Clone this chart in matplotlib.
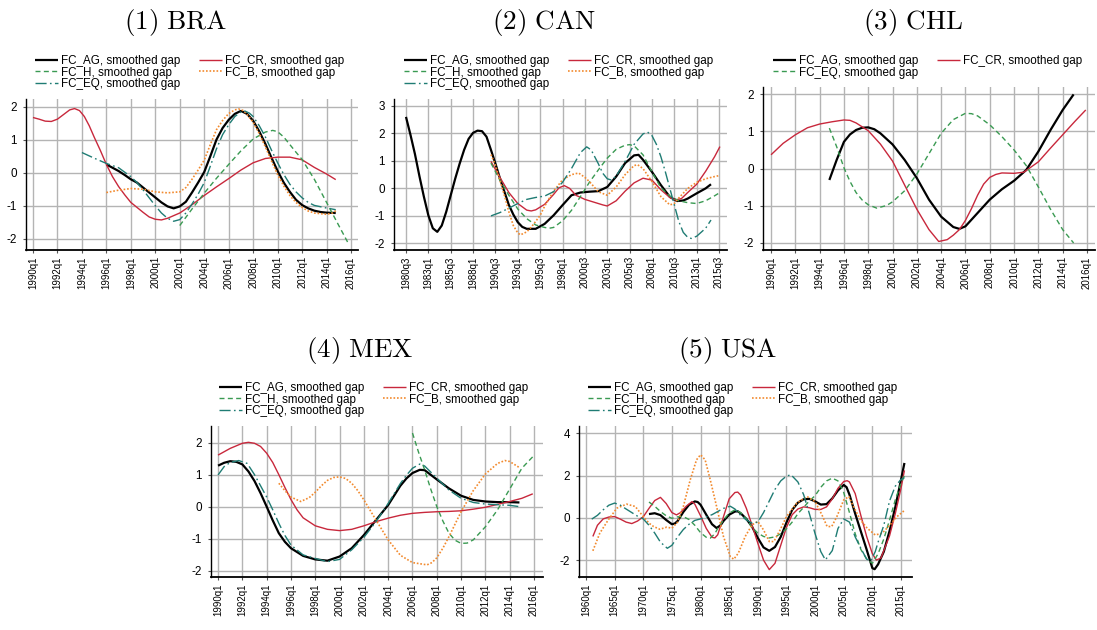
import matplotlib
matplotlib.use("Agg")
import matplotlib.pyplot as plt

plt.rcParams["font.family"] = ["Liberation Sans", "DejaVu Sans"]
plt.rcParams["axes.unicode_minus"] = False

# ---------------- data: smoothed credit gaps by country ----------------
# (1) BRA
BRA_AG_T = [1996.0, 1996.5, 1997.0, 1997.5, 1998.0, 1998.5, 1999.0, 1999.5, 2000.0, 2000.5,
            2001.0, 2001.5, 2002.0, 2002.5, 2003.0, 2003.5, 2004.0, 2004.5, 2005.0, 2005.5,
            2006.0, 2006.5, 2007.0, 2007.5, 2008.0, 2008.5, 2009.0, 2009.5, 2010.0, 2010.5,
            2011.0, 2011.5, 2012.0, 2012.5, 2013.0, 2013.5, 2014.0, 2014.75]
BRA_AG = [0.25, 0.15, 0.05, -0.07, -0.2, -0.3, -0.45, -0.6, -0.75, -0.9,
          -1.02, -1.08, -1.02, -0.88, -0.6, -0.3, 0.02, 0.5, 1.0, 1.35,
          1.6, 1.78, 1.87, 1.78, 1.57, 1.25, 0.87, 0.45, 0.05, -0.3,
          -0.58, -0.82, -0.98, -1.08, -1.15, -1.19, -1.21, -1.22]
BRA_CR_T = [1990.0, 1990.5, 1991.0, 1991.5, 1992.0, 1992.5, 1993.0, 1993.4, 1993.8, 1994.2,
            1994.6, 1995.0, 1995.5, 1996.0, 1996.5, 1997.0, 1997.5, 1998.0, 1998.5, 1999.0,
            1999.5, 2000.0, 2000.5, 2001.0, 2002.0, 2003.0, 2004.0, 2005.0, 2006.0, 2007.0,
            2008.0, 2009.0, 2010.0, 2011.0, 2012.0, 2013.0, 2014.0, 2014.75]
BRA_CR = [1.67, 1.62, 1.56, 1.55, 1.62, 1.76, 1.9, 1.94, 1.88, 1.7,
          1.42, 1.08, 0.68, 0.25, -0.12, -0.42, -0.67, -0.9, -1.05, -1.2,
          -1.34, -1.41, -1.43, -1.38, -1.22, -0.97, -0.69, -0.43, -0.18, 0.08,
          0.3, 0.43, 0.47, 0.47, 0.39, 0.16, -0.04, -0.21]
BRA_H_T = [2002.0, 2002.5, 2003.0, 2004.0, 2005.0, 2006.0, 2007.0, 2008.0, 2009.0, 2009.6,
           2010.0, 2010.5, 2011.0, 2011.5, 2012.0, 2013.0, 2014.0, 2015.0, 2015.75]
BRA_H = [-1.6, -1.35, -1.1, -0.62, -0.17, 0.25, 0.66, 1.02, 1.23, 1.28,
         1.24, 1.08, 0.85, 0.62, 0.4, -0.2, -0.9, -1.6, -2.12]
BRA_B_T = [1996.0, 1997.0, 1998.0, 1999.0, 2000.0, 2001.0, 2002.0, 2002.5, 2003.0, 2003.5,
           2004.0, 2004.5, 2005.0, 2005.5, 2006.0, 2006.5, 2006.8, 2007.2, 2007.6, 2008.0,
           2008.5, 2009.0, 2009.5, 2010.0, 2010.5, 2011.0, 2011.5, 2012.0, 2012.5, 2013.0,
           2014.0, 2014.5, 2014.75]
BRA_B = [-0.6, -0.53, -0.48, -0.5, -0.58, -0.61, -0.58, -0.45, -0.2, 0.08,
         0.38, 0.85, 1.3, 1.58, 1.79, 1.9, 1.93, 1.88, 1.72, 1.53,
         1.18, 0.78, 0.35, -0.06, -0.4, -0.69, -0.9, -1.05, -1.16, -1.22,
         -1.26, -1.22, -1.15]
BRA_EQ_T = [1994.0, 1995.0, 1996.0, 1997.0, 1998.0, 1998.5, 1999.0, 1999.5, 2000.0, 2000.5,
            2001.0, 2001.5, 2002.0, 2002.5, 2003.0, 2003.5, 2004.0, 2004.5, 2005.0, 2005.5,
            2006.0, 2006.5, 2007.0, 2007.3, 2007.7, 2008.0, 2008.5, 2009.0, 2009.5, 2010.0,
            2010.5, 2011.0, 2011.5, 2012.0, 2012.5, 2013.0, 2014.0, 2014.75]
BRA_EQ = [0.61, 0.44, 0.28, 0.15, -0.12, -0.3, -0.52, -0.76, -1.0, -1.22,
          -1.38, -1.47, -1.42, -1.22, -0.95, -0.65, -0.3, 0.2, 0.72, 1.15,
          1.45, 1.7, 1.84, 1.87, 1.8, 1.7, 1.42, 1.08, 0.68, 0.3,
          -0.05, -0.35, -0.58, -0.76, -0.9, -0.99, -1.07, -1.12]

# (2) CAN
CAN_AG_T = [1980.5, 1981.0, 1981.5, 1982.0, 1982.5, 1983.0, 1983.5, 1984.0, 1984.5, 1985.0,
            1985.5, 1986.0, 1986.5, 1987.0, 1987.5, 1988.0, 1988.5, 1989.0, 1989.5, 1990.0,
            1990.5, 1991.0, 1991.5, 1992.0, 1992.5, 1993.0, 1993.5, 1994.0, 1995.0, 1996.0,
            1997.0, 1998.0, 1999.0, 2000.0, 2001.0, 2002.0, 2003.0, 2004.0, 2005.0, 2006.0,
            2006.5, 2007.0, 2008.0, 2009.0, 2010.0, 2010.8, 2011.5, 2012.0, 2013.0, 2014.0,
            2014.6]
CAN_AG = [2.6, 1.95, 1.25, 0.45, -0.3, -0.98, -1.45, -1.58, -1.35, -0.85,
          -0.25, 0.35, 0.9, 1.4, 1.8, 2.02, 2.1, 2.08, 1.88, 1.4,
          0.9, 0.37, -0.12, -0.6, -0.95, -1.23, -1.4, -1.47, -1.47, -1.29,
          -0.98, -0.61, -0.25, -0.15, -0.12, -0.1, 0.05, 0.43, 0.92, 1.2,
          1.22, 1.04, 0.6, 0.12, -0.31, -0.46, -0.44, -0.37, -0.18, 0.0,
          0.15]
CAN_CR_T = [1990.0, 1991.0, 1992.0, 1993.0, 1994.0, 1994.5, 1995.0, 1996.0, 1997.0, 1997.6,
            1998.2, 1998.8, 1999.5, 2000.5, 2001.5, 2002.5, 2003.0, 2004.0, 2005.0, 2006.0,
            2007.0, 2008.0, 2009.0, 2010.0, 2010.6, 2011.3, 2012.0, 2013.0, 2014.0, 2015.0,
            2015.6]
CAN_CR = [0.98, 0.4, -0.15, -0.55, -0.79, -0.82, -0.78, -0.58, -0.22, 0.02,
          0.1, 0.0, -0.25, -0.4, -0.5, -0.6, -0.64, -0.45, -0.1, 0.2,
          0.37, 0.3, -0.05, -0.33, -0.42, -0.37, -0.15, 0.15, 0.62, 1.15,
          1.52]
CAN_H_T = [1990.0, 1991.0, 1992.0, 1993.0, 1994.0, 1995.0, 1996.0, 1996.5, 1997.0, 1998.0,
           1999.0, 2000.0, 2001.0, 2002.0, 2003.0, 2004.0, 2005.0, 2005.5, 2006.0, 2007.0,
           2008.0, 2009.0, 2010.0, 2011.0, 2012.0, 2013.0, 2014.0, 2015.0, 2015.6]
CAN_H = [0.92, 0.3, -0.25, -0.75, -1.1, -1.33, -1.42, -1.45, -1.42, -1.18,
         -0.8, -0.3, 0.22, 0.67, 1.1, 1.42, 1.57, 1.59, 1.55, 1.22,
         0.6, 0.02, -0.28, -0.45, -0.52, -0.55, -0.45, -0.27, -0.15]
CAN_B_T = [1990.0, 1990.5, 1991.0, 1991.5, 1992.0, 1992.5, 1993.0, 1993.3, 1994.0, 1994.5,
           1995.0, 1995.5, 1996.0, 1997.0, 1998.0, 1999.0, 1999.8, 2000.5, 2001.0, 2002.0,
           2003.0, 2004.0, 2005.0, 2006.0, 2006.4, 2007.0, 2008.0, 2009.0, 2010.0, 2010.5,
           2011.0, 2012.0, 2013.0, 2014.0, 2015.0, 2015.6]
CAN_B = [1.23, 0.85, 0.3, -0.25, -0.85, -1.35, -1.62, -1.69, -1.58, -1.41,
         -1.2, -0.98, -0.65, -0.1, 0.31, 0.5, 0.56, 0.4, 0.25, -0.12,
         -0.25, 0.05, 0.5, 0.83, 0.86, 0.72, 0.25, -0.3, -0.6, -0.55,
         -0.35, 0.0, 0.22, 0.35, 0.43, 0.47]
CAN_EQ_T = [1990.0, 1991.0, 1992.0, 1993.0, 1994.0, 1995.0, 1996.0, 1997.0, 1998.0, 1999.0,
            2000.0, 2000.7, 2001.2, 2002.0, 2002.5, 2003.0, 2003.5, 2004.0, 2005.0, 2006.0,
            2007.0, 2007.5, 2008.0, 2008.5, 2009.0, 2009.5, 2010.0, 2010.5, 2011.0, 2011.5,
            2012.0, 2012.4, 2013.0, 2014.0, 2014.6]
CAN_EQ = [-1.0, -0.88, -0.72, -0.55, -0.4, -0.33, -0.28, -0.12, 0.22, 0.72,
          1.3, 1.51, 1.4, 0.9, 0.55, 0.35, 0.3, 0.45, 0.98, 1.6,
          1.98, 2.05, 1.92, 1.6, 1.15, 0.6, 0.0, -0.6, -1.2, -1.6,
          -1.78, -1.82, -1.74, -1.45, -1.15]

# (3) CHL
CHL_AG_T = [1994.8, 1995.4, 1996.0, 1996.5, 1997.0, 1997.5, 1998.0, 1998.5, 1999.0, 2000.0,
            2001.0, 2002.0, 2003.0, 2004.0, 2005.0, 2005.5, 2006.0, 2007.0, 2008.0, 2009.0,
            2010.0, 2011.0, 2012.0, 2013.0, 2014.0, 2014.9]
CHL_AG = [-0.31, 0.23, 0.72, 0.92, 1.04, 1.1, 1.11, 1.06, 0.95, 0.65,
          0.23, -0.26, -0.84, -1.3, -1.58, -1.63, -1.56, -1.2, -0.84, -0.56,
          -0.33, -0.04, 0.46, 1.04, 1.58, 2.0]
CHL_CR_T = [1990.0, 1991.0, 1992.0, 1993.0, 1994.0, 1995.0, 1996.0, 1996.5, 1997.0, 1998.0,
            1999.0, 2000.0, 2001.0, 2002.0, 2003.0, 2003.8, 2004.5, 2005.0, 2005.5, 2006.0,
            2006.5, 2007.0, 2007.5, 2008.0, 2008.5, 2009.0, 2010.0, 2010.8, 2012.0, 2013.0,
            2014.0, 2015.0, 2015.9]
CHL_CR = [0.37, 0.68, 0.91, 1.1, 1.2, 1.26, 1.31, 1.3, 1.23, 1.02,
          0.66, 0.2, -0.45, -1.1, -1.65, -1.97, -1.92, -1.8, -1.65, -1.4,
          -1.08, -0.72, -0.42, -0.24, -0.16, -0.12, -0.13, -0.1, 0.18, 0.55,
          0.91, 1.27, 1.58]
CHL_EQ_T = [1994.8, 1995.4, 1996.0, 1996.5, 1997.0, 1997.5, 1998.0, 1998.7, 1999.5, 2000.0,
            2001.0, 2002.0, 2003.0, 2004.0, 2005.0, 2006.0, 2006.5, 2007.0, 2008.0, 2009.0,
            2010.0, 2011.0, 2012.0, 2013.0, 2014.0, 2014.9]
CHL_EQ = [1.09, 0.59, 0.02, -0.35, -0.65, -0.85, -0.98, -1.07, -1.0, -0.9,
          -0.6, -0.15, 0.4, 0.95, 1.32, 1.49, 1.48, 1.42, 1.18, 0.86,
          0.5, 0.08, -0.5, -1.1, -1.65, -2.01]

# (4) MEX
MEX_AG_T = [1990.0, 1990.5, 1991.0, 1991.5, 1992.0, 1992.5, 1993.0, 1993.5, 1994.0, 1994.5,
            1995.0, 1995.5, 1996.0, 1997.0, 1998.0, 1999.0, 2000.0, 2001.0, 2002.0, 2003.0,
            2004.0, 2005.0, 2005.5, 2006.0, 2006.6, 2007.0, 2008.0, 2009.0, 2010.0, 2011.0,
            2012.0, 2013.0, 2014.0, 2014.8]
MEX_AG = [1.28, 1.37, 1.42, 1.4, 1.32, 1.1, 0.8, 0.42, 0.0, -0.43,
          -0.83, -1.1, -1.3, -1.54, -1.65, -1.69, -1.56, -1.3, -0.89, -0.42,
          0.05, 0.65, 0.88, 1.05, 1.15, 1.14, 0.85, 0.57, 0.34, 0.21,
          0.16, 0.14, 0.14, 0.13]
MEX_CR_T = [1990.0, 1991.0, 1992.0, 1992.5, 1993.0, 1993.5, 1994.0, 1994.5, 1995.0, 1995.5,
            1996.0, 1996.5, 1997.0, 1998.0, 1999.0, 2000.0, 2001.0, 2002.0, 2003.0, 2004.0,
            2005.0, 2006.0, 2007.0, 2008.0, 2009.0, 2010.0, 2011.0, 2012.0, 2013.0, 2014.0,
            2015.0, 2015.9]
MEX_CR = [1.61, 1.82, 1.98, 2.01, 1.98, 1.88, 1.67, 1.38, 1.0, 0.6,
          0.22, -0.1, -0.35, -0.6, -0.71, -0.75, -0.71, -0.6, -0.47, -0.36,
          -0.27, -0.21, -0.18, -0.16, -0.15, -0.13, -0.08, -0.02, 0.07, 0.16,
          0.26, 0.4]
MEX_H_T = [2006.0, 2006.5, 2007.0, 2007.5, 2008.0, 2008.5, 2009.0, 2009.5, 2010.0, 2010.5,
           2011.0, 2012.0, 2013.0, 2014.0, 2015.0, 2015.9]
MEX_H = [2.3, 1.7, 1.15, 0.55, 0.0, -0.45, -0.83, -1.05, -1.15, -1.14,
         -1.04, -0.63, -0.1, 0.55, 1.2, 1.56]
MEX_B_T = [1995.0, 1995.5, 1996.0, 1996.8, 1997.5, 1998.0, 1998.5, 1999.0, 1999.5, 2000.0,
           2000.5, 2001.0, 2001.5, 2002.0, 2003.0, 2004.0, 2005.0, 2006.0, 2007.2, 2007.6,
           2008.0, 2008.5, 2009.0, 2009.5, 2010.0, 2011.0, 2012.0, 2013.0, 2013.6, 2014.0,
           2014.8]
MEX_B = [0.73, 0.5, 0.3, 0.16, 0.28, 0.45, 0.65, 0.82, 0.91, 0.93,
         0.88, 0.73, 0.5, 0.21, -0.42, -1.04, -1.52, -1.75, -1.82, -1.75,
         -1.6, -1.3, -0.94, -0.55, -0.16, 0.5, 1.02, 1.35, 1.44, 1.41,
         1.22]
MEX_EQ_T = [1990.0, 1990.5, 1991.0, 1991.7, 1992.4, 1993.0, 1993.5, 1994.0, 1994.5, 1995.0,
            1995.5, 1996.0, 1997.0, 1998.0, 1999.0, 2000.0, 2001.0, 2002.0, 2003.0, 2004.0,
            2005.0, 2005.5, 2006.0, 2006.6, 2007.0, 2008.0, 2009.0, 2010.0, 2011.0, 2012.0,
            2013.0, 2014.0, 2014.8]
MEX_EQ = [0.99, 1.25, 1.38, 1.44, 1.35, 1.0, 0.65, 0.3, -0.1, -0.52,
          -0.9, -1.2, -1.51, -1.62, -1.72, -1.65, -1.35, -0.96, -0.47, 0.1,
          0.72, 0.98, 1.2, 1.33, 1.27, 0.89, 0.52, 0.26, 0.13, 0.08,
          0.06, 0.04, 0.0]

# (5) USA
USA_AG_T = [1971.0, 1972.0, 1973.0, 1974.0, 1975.0, 1975.5, 1976.0, 1977.0, 1978.0, 1979.0,
            1979.5, 1980.0, 1981.0, 1982.0, 1982.8, 1983.5, 1984.0, 1985.0, 1986.0, 1986.5,
            1987.0, 1988.0, 1989.0, 1990.0, 1991.0, 1992.0, 1993.0, 1994.0, 1995.0, 1996.0,
            1997.0, 1998.0, 1999.0, 2000.0, 2001.0, 2002.0, 2003.0, 2004.0, 2005.0, 2005.5,
            2006.0, 2007.0, 2008.0, 2009.0, 2010.0, 2010.4, 2011.0, 2012.0, 2013.0, 2014.0,
            2015.0, 2015.6]
USA_AG = [0.18, 0.22, 0.13, -0.1, -0.3, -0.27, -0.15, 0.28, 0.62, 0.78,
          0.75, 0.62, 0.15, -0.3, -0.48, -0.35, -0.15, 0.15, 0.3, 0.31,
          0.22, -0.05, -0.42, -0.95, -1.4, -1.56, -1.38, -0.9, -0.22, 0.38,
          0.72, 0.88, 0.9, 0.78, 0.63, 0.65, 0.92, 1.3, 1.56, 1.45,
          1.1, 0.2, -0.65, -1.5, -2.38, -2.43, -2.2, -1.6, -0.62, 0.5,
          1.8, 2.6]
USA_CR_T = [1961.2, 1962.0, 1963.0, 1964.0, 1965.0, 1966.0, 1967.0, 1968.0, 1969.0, 1970.0,
            1971.0, 1972.0, 1973.0, 1974.0, 1975.0, 1975.8, 1976.5, 1977.5, 1978.5, 1979.0,
            1980.0, 1981.0, 1982.0, 1982.5, 1983.0, 1984.0, 1985.0, 1986.0, 1986.5, 1987.0,
            1988.0, 1989.0, 1990.0, 1991.0, 1992.0, 1993.0, 1994.0, 1995.0, 1996.0, 1997.0,
            1998.0, 1999.0, 2000.0, 2001.0, 2002.0, 2003.0, 2004.0, 2005.0, 2005.6, 2006.0,
            2007.0, 2008.0, 2009.0, 2010.0, 2010.7, 2011.5, 2012.0, 2013.0, 2014.0, 2015.0,
            2015.6]
USA_CR = [-0.88, -0.35, -0.05, 0.04, 0.06, -0.06, -0.2, -0.27, -0.15, 0.05,
          0.45, 0.82, 0.97, 0.68, 0.25, 0.14, 0.25, 0.55, 0.77, 0.65,
          0.1, -0.5, -0.92, -0.95, -0.8, 0.05, 0.9, 1.2, 1.22, 1.08,
          0.45, -0.35, -1.2, -2.0, -2.45, -2.15, -1.3, -0.45, 0.15, 0.42,
          0.52, 0.48, 0.4, 0.4, 0.52, 0.9, 1.4, 1.72, 1.76, 1.7,
          1.15, 0.1, -0.88, -1.7, -2.0, -1.9, -1.55, -0.85, 0.2, 1.4,
          2.25]
USA_H_T = [1971.0, 1972.0, 1973.0, 1974.0, 1975.0, 1976.0, 1977.0, 1978.0, 1979.0, 1980.0,
           1981.0, 1981.7, 1982.5, 1983.0, 1984.0, 1985.0, 1986.0, 1987.0, 1988.0, 1989.0,
           1990.0, 1991.0, 1992.0, 1993.0, 1994.0, 1995.0, 1996.0, 1997.0, 1998.0, 1999.0,
           2000.0, 2001.0, 2002.0, 2003.0, 2004.0, 2005.0, 2006.0, 2007.0, 2008.0, 2009.0,
           2010.0, 2011.0, 2012.0, 2013.0, 2014.0, 2015.0, 2015.6]
USA_H = [0.75, 0.55, 0.3, 0.1, -0.02, 0.05, 0.06, -0.08, -0.35, -0.7,
         -0.92, -0.96, -0.75, -0.5, -0.1, 0.22, 0.38, 0.25, -0.05, -0.45,
         -0.72, -0.88, -0.95, -0.9, -0.75, -0.52, -0.2, 0.2, 0.5, 0.8,
         1.05, 1.45, 1.75, 1.88, 1.75, 1.2, 0.25, -0.75, -1.5, -1.95,
         -2.15, -1.7, -1.0, -0.1, 0.85, 1.65, 2.0]
USA_B_T = [1961.2, 1962.4, 1963.9, 1965.4, 1967.1, 1968.6, 1970.0, 1971.0, 1971.8, 1972.9,
           1974.1, 1975.0, 1976.0, 1977.0, 1978.2, 1979.3, 1980.0, 1980.8, 1981.7, 1982.8,
           1984.0, 1985.2, 1985.8, 1986.6, 1987.8, 1989.0, 1990.0, 1991.0, 1992.0, 1992.8,
           1993.9, 1995.0, 1996.8, 1998.6, 2000.0, 2001.2, 2002.1, 2002.9, 2003.8, 2005.0,
           2005.9, 2006.7, 2007.9, 2009.1, 2010.5, 2011.7, 2013.1, 2014.3, 2015.6]
USA_B = [-1.56, -0.73, -0.09, 0.46, 0.65, 0.54, 0.06, -0.25, -0.41, -0.54,
         -0.44, -0.49, -0.2, 0.54, 1.8, 2.75, 2.99, 2.75, 1.8, 0.54,
         -0.88, -1.83, -1.96, -1.67, -0.88, -0.33, -0.17, -0.57, -1.12, -1.12,
         -0.57, 0.06, 0.7, 1.01, 0.77, 0.14, -0.41, -0.41, 0.06, 0.85,
         1.01, 0.54, -0.09, -0.49, -0.81, -0.73, -0.33, 0.06, 0.35]
USA_EQ_T = [1961.0, 1962.0, 1963.0, 1964.0, 1965.0, 1966.0, 1967.0, 1968.0, 1969.0, 1970.0,
            1971.0, 1972.0, 1973.0, 1974.2, 1975.0, 1976.0, 1977.0, 1978.0, 1979.0, 1980.0,
            1981.0, 1982.0, 1983.0, 1984.0, 1985.2, 1986.0, 1987.0, 1988.0, 1989.0, 1990.0,
            1991.0, 1992.0, 1993.0, 1994.0, 1995.0, 1995.8, 1997.0, 1998.0, 1999.0, 2000.0,
            2001.0, 2001.8, 2003.0, 2004.0, 2005.0, 2006.0, 2007.0, 2008.0, 2009.0, 2009.7,
            2010.5, 2011.0, 2012.0, 2013.0, 2014.0, 2015.0, 2015.6]
USA_EQ = [-0.06, 0.12, 0.38, 0.6, 0.7, 0.6, 0.42, 0.25, 0.08, -0.05,
          -0.35, -0.72, -1.15, -1.44, -1.3, -0.9, -0.55, -0.3, -0.12, -0.05,
          0.05, 0.15, 0.3, 0.45, 0.55, 0.42, 0.12, -0.1, -0.25, -0.2,
          0.25, 0.8, 1.35, 1.75, 1.98, 2.04, 1.7, 1.1, 0.2, -0.75,
          -1.6, -1.99, -1.55, -0.5, -0.05, -0.2, -0.9, -1.45, -1.95, -2.05,
          -1.6, -1.15, -0.35, 0.8, 1.5, 1.82, 1.9]

# tick labels (quarters)
TICKS_9016 = ["1990q1", "1992q1", "1994q1", "1996q1", "1998q1", "2000q1", "2002q1",
              "2004q1", "2006q1", "2008q1", "2010q1", "2012q1", "2014q1", "2016q1"]
TICKS_CAN = ["1980q3", "1983q1", "1985q3", "1988q1", "1990q3", "1993q1", "1995q3", "1998q1",
             "2000q3", "2003q1", "2005q3", "2008q1", "2010q3", "2013q1", "2015q3"]
TICKS_USA = ["1960q1", "1965q1", "1970q1", "1975q1", "1980q1", "1985q1", "1990q1",
             "1995q1", "2000q1", "2005q1", "2010q1", "2015q1"]

LABEL = {"AG": "FC_AG, smoothed gap", "CR": "FC_CR, smoothed gap",
         "H": "FC_H, smoothed gap", "B": "FC_B, smoothed gap",
         "EQ": "FC_EQ, smoothed gap"}

# ---------------- styles ----------------
RED = "#c8283c"
GREEN = "#3a9a52"
ORANGE = "#f28a2e"
TEAL = "#1f7c74"
STY = {
    "solid_k": dict(color="black", lw=1.6, ls="-"),
    "solid_r": dict(color=RED, lw=1.0, ls="-"),
    "dash_g": dict(color=GREEN, lw=1.0, ls=(0, (3.6, 2.4))),
    "dot_o": dict(color=ORANGE, lw=1.2, ls=(0, (1.0, 1.1))),
    "dashdot_t": dict(color=TEAL, lw=1.0, ls=(0, (8.0, 2.4, 1.2, 2.4))),
}

W, H = 1097, 630


def tick_pos(lbl):
    yr, q = lbl.split("q")
    return int(yr) + (int(q) - 1) / 4.0


# panel: title, title centre (px), axes box (l, t, r, b px), xlim, ylim, yticks,
#        tick labels, series (key, t, v, style), legend anchor (px)
PANELS = [
    ("(1) BRA", (176, 29), (26, 99, 358, 250), (1989.43, 2016.57), (-2.34, 2.23),
     [-2, -1, 0, 1, 2], TICKS_9016,
     [("AG", BRA_AG_T, BRA_AG, "solid_k"), ("CR", BRA_CR_T, BRA_CR, "solid_r"),
      ("H", BRA_H_T, BRA_H, "dash_g"), ("B", BRA_B_T, BRA_B, "dot_o"),
      ("EQ", BRA_EQ_T, BRA_EQ, "dashdot_t")], (35, 55)),
    ("(2) CAN", (544, 29), (394, 99, 727, 250), (1979.16, 2016.39), (-2.24, 3.25),
     [-2, -1, 0, 1, 2, 3], TICKS_CAN,
     [("AG", CAN_AG_T, CAN_AG, "solid_k"), ("CR", CAN_CR_T, CAN_CR, "solid_r"),
      ("H", CAN_H_T, CAN_H, "dash_g"), ("B", CAN_B_T, CAN_B, "dot_o"),
      ("EQ", CAN_EQ_T, CAN_EQ, "dashdot_t")], (404, 55)),
    ("(3) CHL", (913, 29), (763, 87, 1095, 250), (1989.34, 2016.66), (-2.2, 2.2),
     [-2, -1, 0, 1, 2], TICKS_9016,
     [("AG", CHL_AG_T, CHL_AG, "solid_k"), ("CR", CHL_CR_T, CHL_CR, "solid_r"),
      ("EQ", CHL_EQ_T, CHL_EQ, "dash_g")], (773, 55)),
    ("(4) MEX", (360, 357), (211, 426, 543, 577), (1989.42, 2016.74), (-2.2, 2.52),
     [-2, -1, 0, 1, 2], TICKS_9016,
     [("AG", MEX_AG_T, MEX_AG, "solid_k"), ("CR", MEX_CR_T, MEX_CR, "solid_r"),
      ("H", MEX_H_T, MEX_H, "dash_g"), ("B", MEX_B_T, MEX_B, "dot_o"),
      ("EQ", MEX_EQ_T, MEX_EQ, "dashdot_t")], (219, 382)),
    ("(5) USA", (728, 357), (579, 426, 912, 577), (1958.78, 2016.92), (-2.8, 4.35),
     [-2, 0, 2, 4], TICKS_USA,
     [("AG", USA_AG_T, USA_AG, "solid_k"), ("CR", USA_CR_T, USA_CR, "solid_r"),
      ("H", USA_H_T, USA_H, "dash_g"), ("B", USA_B_T, USA_B, "dot_o"),
      ("EQ", USA_EQ_T, USA_EQ, "dashdot_t")], (588, 382)),
]

fig = plt.figure(figsize=(W / 100, H / 100), dpi=100)
fig.patch.set_facecolor("white")

for title, tpos, box, xlim, ylim, yticks, xt_labels, series, lpos in PANELS:
    l, t, r, b = box
    ax = fig.add_axes([l / W, 1 - b / H, (r - l) / W, (b - t) / H])
    ax.set_xlim(*xlim)
    ax.set_ylim(*ylim)
    ax.set_xticks([tick_pos(s) for s in xt_labels])
    ax.set_xticklabels(xt_labels, rotation=90, fontsize=7.0)
    ax.set_yticks(yticks)
    ax.set_yticklabels([str(v) for v in yticks], fontsize=8.4)
    ax.grid(True, color="#b4b4b4", lw=1.0)
    ax.set_axisbelow(True)
    for s in ("top", "right"):
        ax.spines[s].set_visible(False)
    ax.spines["left"].set_linewidth(1.0)
    ax.spines["bottom"].set_linewidth(1.3)
    ax.tick_params(axis="both", length=2.5, width=0.8, color="#555555")
    ax.tick_params(axis="x", pad=2)
    ax.tick_params(axis="y", pad=4)

    handles = {}
    for key, tt, vv, sty in series:
        (ln,) = ax.plot(tt, vv, **STY[sty], solid_capstyle="butt", dash_capstyle="butt")
        handles[key] = ln

    # two-column legend filled row by row: AG | CR / H | B / EQ
    if "H" in handles:
        order = ["AG", "H", "EQ", "CR", "B"]
    else:
        order = ["AG", "EQ", "CR"]
    ax.legend([handles[k] for k in order], [LABEL[k] for k in order],
              ncol=2, loc="upper left", bbox_to_anchor=(lpos[0] / W, 1 - lpos[1] / H),
              bbox_transform=fig.transFigure, frameon=False, fontsize=8.4,
              handlelength=2.0, handletextpad=0.25, columnspacing=1.55,
              labelspacing=-0.04, borderpad=0, borderaxespad=0)

    fig.text(tpos[0] / W, 1 - tpos[1] / H,
             r"$\mathrm{" + title.replace(" ", r"\ ") + "}$",
             ha="center", va="baseline", fontsize=19.5, math_fontfamily="cm")

fig.savefig("out.png", dpi=100, facecolor="white")
